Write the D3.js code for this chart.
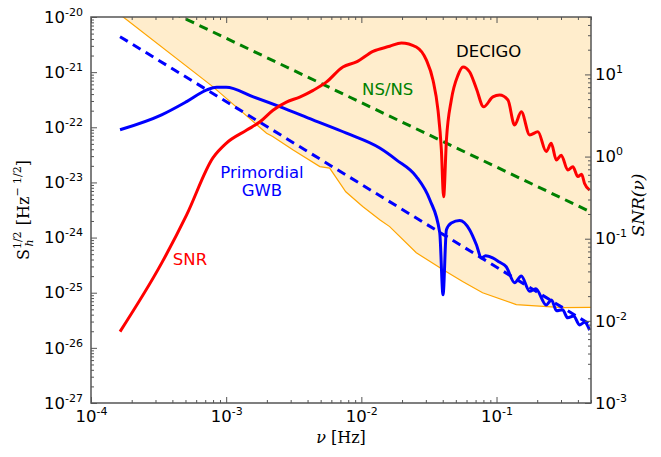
<!DOCTYPE html>
<html>
<head>
<meta charset="utf-8">
<script src="https://cdn.jsdelivr.net/npm/d3@7"></script>
<style>
body { margin: 0; background: #fff; }
svg { display: block; }
</style>
</head>
<body>
<svg id="chart"></svg>
<script>
// DECIGO sensitivity curve (shaded region above it)
const decigoFreq   = [1.2e-4, 1.73e-4, 8.0e-4, 1.99e-3, 2.21e-3, 3.11e-3, 4.93e-3, 5.83e-3, 7.67e-3, 0.01023, 0.01368, 0.0162, 0.0255, 0.040, 0.0561, 0.0789, 0.14, 0.308, 0.5];
const decigoStrain = [2.0e-20, 1.0e-20, 5.4e-22, 7.8e-23, 6.8e-23, 3.9e-23, 1.94e-23, 1.82e-23, 6.76e-24, 3.66e-24, 2.1e-24, 1.58e-24, 5.3e-25, 2.63e-25, 1.6e-25, 1.0e-25, 6.07e-26, 5.37e-26, 5.42e-26];

// NS/NS inspiral (green dashed)
const nsnsFreq   = [4.0e-4, 0.5];
const nsnsStrain = [1.2e-20, 2.9e-24];

// primordial GWB, power law (blue dashed)
const gwbFitFreq   = [1.64e-4, 0.5];
const gwbFitStrain = [4.4e-21, 2.6e-26];

// primordial GWB signal (blue solid)
const gwbFreq   = [1.64e-4, 3.33e-4, 5.1e-4, 7.2e-4, 8.5e-4, 1.0e-3, 1.57e-3, 2.49e-3, 4.38e-3, 7.76e-3, 0.01368, 0.01817, 0.0255, 0.0321, 0.038, 0.0402,
                   0.0426, 0.0463, 0.0534, 0.0632, 0.071, 0.0773, 0.083, 0.0936, 0.105, 0.118, 0.136, 0.1525, 0.176, 0.195, 0.233, 0.255, 0.278, 0.308, 0.336, 0.372, 0.411, 0.448, 0.488];
const gwbStrain = [9.0e-23, 1.68e-22, 2.92e-22, 4.77e-22, 5.3e-22, 5.3e-22, 3.6e-22, 2.37e-22, 1.36e-22, 7.8e-23, 4.2e-23, 2.57e-23, 1.28e-23, 4.84e-24, 1.23e-24, 9.2e-26,
                   1.38e-24, 1.83e-24, 2.04e-24, 1.39e-24, 7.4e-25, 4.25e-25, 4.7e-25, 4.3e-25, 3.6e-25, 2.95e-25, 1.52e-25, 2.0e-25, 1.06e-25, 1.18e-25, 6.0e-26, 7.4e-26, 4.7e-26, 4.9e-26, 3.5e-26, 3.8e-26, 2.6e-26, 2.9e-26, 2.1e-26];

// signal to noise ratio (red, right axis)
const snrFreq  = [1.64e-4, 3.33e-4, 5.1e-4, 8.0e-4, 1.0e-3, 1.42e-3, 1.78e-3, 2.22e-3, 2.79e-3, 3.5e-3, 4.4e-3, 5.5e-3, 7.3e-3, 9.2e-3, 0.0122, 0.0162, 0.0198, 0.0255, 0.0303, 0.0339, 0.0369, 0.0391, 0.0406,
                  0.0426, 0.0463, 0.0519, 0.0565, 0.0633, 0.0709, 0.0803, 0.094, 0.1054, 0.1215, 0.136, 0.1525, 0.176, 0.2025, 0.233, 0.254, 0.277, 0.301, 0.337, 0.367, 0.4, 0.426, 0.448, 0.488];
const snrValue = [7.4e-3, 0.0504, 0.195, 0.97, 1.45, 2.1, 2.65, 3.67, 4.6, 5.3, 6.4, 8.05, 12.3, 14.2, 19.1, 22.0, 24.2, 21.6, 14.9, 8.5, 3.67, 1.2, 0.325,
                  1.59, 4.87, 9.8, 12.3, 10.7, 6.75, 4.03, 5.33, 5.6, 4.87, 2.42, 3.5, 1.83, 2.0, 1.15, 1.45, 0.91, 1.04, 0.685, 0.75, 0.57, 0.61, 0.47, 0.39];

// tick values
const xMajor  = [1e-4, 1e-3, 1e-2, 1e-1];
const yLMajor = [1e-27, 1e-26, 1e-25, 1e-24, 1e-23, 1e-22, 1e-21, 1e-20];
const yRMajor = [1e-3, 1e-2, 1e-1, 1e0, 1e1];

// annotations, in data coordinates
const notes = [
    { text: 'DECIGO',     f: 0.0875,  h: 1.9e-21,  color: '#000000' },
    { text: 'NS/NS',      f: 0.01567, h: 3.87e-22, color: '#008000' },
    { text: 'Primordial', f: 1.84e-3, h: 1.21e-23, color: '#0000ff' },
    { text: 'GWB',        f: 1.84e-3, h: 5.7e-24,  color: '#0000ff' },
    { text: 'SNR',        f: 5.4e-4,  h: 3.2e-25,  color: '#ff0000' }
];

const zip = (fs, vs) => fs.map((f, i) => ({ f: f, v: vs[i] }));

var chartW = 661,
    chartH = 457,
    plotLeft = 91,
    plotTop = 17,
    plotW = 500,
    plotH = 386,
    axisColor = '#555555',
    tickFont = 'DejaVu Sans, sans-serif',
    labelFont = 'DejaVu Serif, serif',
    fontSize = 16.5;

const x = d3.scaleLog().domain([1e-4, 0.5]).range([plotLeft, plotLeft + plotW]);
const yL = d3.scaleLog().domain([1e-27, 1e-20]).range([plotTop + plotH, plotTop]);
const yR = d3.scaleLog().domain([1e-3, 50]).range([plotTop + plotH, plotTop]);

var svg = d3.select('#chart')
    .attr('width', chartW)
    .attr('height', chartH)
    .style('font-family', tickFont);

svg.append('defs').append('clipPath')
    .attr('id', 'plot-clip')
    .append('rect')
    .attr('x', plotLeft).attr('y', plotTop)
    .attr('width', plotW).attr('height', plotH);

var plot = svg.append('g').attr('clip-path', 'url(#plot-clip)');

// shaded DECIGO region
const decigo = zip(decigoFreq, decigoStrain);
plot.append('path')
    .datum(decigo)
    .attr('fill', '#ffedcc')
    .attr('d', d3.area().x(d => x(d.f)).y0(plotTop).y1(d => yL(d.v)));

plot.append('path')
    .datum(decigo)
    .attr('fill', 'none')
    .attr('stroke', '#ffa500')
    .attr('stroke-width', 1.2)
    .attr('d', d3.line().x(d => x(d.f)).y(d => yL(d.v)));

const lineL = d3.line().x(d => x(d.f)).y(d => yL(d.v));
const lineR = d3.line().x(d => x(d.f)).y(d => yR(d.v));

// NS/NS
plot.append('path')
    .datum(zip(nsnsFreq, nsnsStrain))
    .attr('fill', 'none')
    .attr('stroke', '#008000')
    .attr('stroke-width', 3)
    .attr('stroke-dasharray', '9,6')
    .attr('d', lineL);

// GWB power law
plot.append('path')
    .datum(zip(gwbFitFreq, gwbFitStrain))
    .attr('fill', 'none')
    .attr('stroke', '#0000ff')
    .attr('stroke-width', 3)
    .attr('stroke-dasharray', '9,6')
    .attr('d', lineL);

// GWB signal
plot.append('path')
    .datum(zip(gwbFreq, gwbStrain))
    .attr('fill', 'none')
    .attr('stroke', '#0000ff')
    .attr('stroke-width', 3)
    .attr('stroke-linejoin', 'round')
    .attr('d', lineL.curve(d3.curveMonotoneX));

// SNR
plot.append('path')
    .datum(zip(snrFreq, snrValue))
    .attr('fill', 'none')
    .attr('stroke', '#ff0000')
    .attr('stroke-width', 3)
    .attr('stroke-linejoin', 'round')
    .attr('d', lineR.curve(d3.curveMonotoneX));

// annotations
notes.forEach(function (n) {
    svg.append('text')
        .attr('x', x(n.f))
        .attr('y', yL(n.h))
        .attr('text-anchor', 'middle')
        .attr('font-size', fontSize)
        .attr('fill', n.color)
        .text(n.text);
});

// frame
svg.append('rect')
    .attr('x', plotLeft).attr('y', plotTop)
    .attr('width', plotW).attr('height', plotH)
    .attr('fill', 'none')
    .attr('stroke', axisColor)
    .attr('stroke-width', 1.5);

const powerLabel = function (sel) {
    sel.each(function (d) {
        var t = d3.select(this),
            e = Math.round(Math.log10(d));
        t.text(null).attr('fill', '#000').attr('font-size', fontSize);
        t.append('tspan').text('10');
        t.append('tspan').attr('dy', -7).attr('font-size', 11).text(e);
    });
};

const styleAxis = function (g) {
    g.select('.domain').remove();
    g.selectAll('line').attr('stroke', axisColor).attr('stroke-width', 1);
    g.attr('font-family', tickFont);
};

const minorOf = (scale, majors) => scale.ticks().filter(v => !majors.some(m => Math.abs(v / m - 1) < 1e-6));

// bottom / top x ticks
svg.append('g')
    .attr('transform', 'translate(0,' + (plotTop + plotH) + ')')
    .call(d3.axisBottom(x).tickValues(minorOf(x, xMajor)).tickSize(-3).tickFormat(''))
    .call(styleAxis);
svg.append('g')
    .attr('transform', 'translate(0,' + (plotTop + plotH) + ')')
    .call(d3.axisBottom(x).tickValues(xMajor).tickSize(-6).tickPadding(7))
    .call(styleAxis)
    .selectAll('text').call(powerLabel);
svg.append('g')
    .attr('transform', 'translate(0,' + plotTop + ')')
    .call(d3.axisTop(x).tickValues(minorOf(x, xMajor)).tickSize(-3).tickFormat(''))
    .call(styleAxis);
svg.append('g')
    .attr('transform', 'translate(0,' + plotTop + ')')
    .call(d3.axisTop(x).tickValues(xMajor).tickSize(-6).tickFormat(''))
    .call(styleAxis);

// left y ticks
svg.append('g')
    .attr('transform', 'translate(' + plotLeft + ',0)')
    .call(d3.axisLeft(yL).tickValues(minorOf(yL, yLMajor)).tickSize(-3).tickFormat(''))
    .call(styleAxis);
svg.append('g')
    .attr('transform', 'translate(' + plotLeft + ',0)')
    .call(d3.axisLeft(yL).tickValues(yLMajor).tickSize(-6).tickPadding(8))
    .call(styleAxis)
    .selectAll('text').call(powerLabel);

// right y ticks (SNR)
svg.append('g')
    .attr('transform', 'translate(' + (plotLeft + plotW) + ',0)')
    .call(d3.axisRight(yR).tickValues(minorOf(yR, yRMajor)).tickSize(-3).tickFormat(''))
    .call(styleAxis);
svg.append('g')
    .attr('transform', 'translate(' + (plotLeft + plotW) + ',0)')
    .call(d3.axisRight(yR).tickValues(yRMajor).tickSize(-6).tickPadding(4))
    .call(styleAxis)
    .selectAll('text').call(powerLabel);

// axis titles
var xt = svg.append('text')
    .attr('x', plotLeft + plotW / 2)
    .attr('y', 443)
    .attr('text-anchor', 'middle')
    .attr('font-family', labelFont)
    .attr('font-size', 16);
xt.append('tspan').attr('font-style', 'italic').text('\u03bd');
xt.append('tspan').text(' [Hz]');

var yt = svg.append('text')
    .attr('transform', 'translate(29,' + (plotTop + plotH / 2) + ') rotate(-90)')
    .attr('text-anchor', 'middle')
    .attr('font-family', labelFont)
    .attr('font-size', 16);
yt.append('tspan').text('S');
yt.append('tspan').attr('font-size', 11).attr('dy', -8).text('1/2');
yt.append('tspan').attr('font-size', 11).attr('font-style', 'italic').attr('dx', -15).attr('dy', 12).text('h');
yt.append('tspan').attr('dx', 9).attr('dy', -4).text(' [Hz');
yt.append('tspan').attr('font-size', 11).attr('dy', -8).text('\u2212 1/2');
yt.append('tspan').attr('dy', 8).text(']');

svg.append('text')
    .attr('transform', 'translate(644,205) rotate(-90)')
    .attr('text-anchor', 'middle')
    .attr('font-family', labelFont)
    .attr('font-style', 'italic')
    .attr('font-size', 17)
    .text('SNR(\u03bd)');
</script>
</body>
</html>
